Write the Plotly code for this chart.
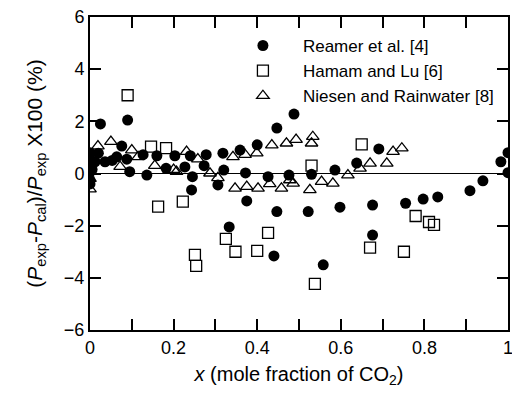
import plotly.graph_objects as go

# Reamer et al. [4]
reamer_x = [0.0, 0.0, 0.0, 0.0, 0.0, 0.0, 0.005, 0.012, 0.025, 0.02, 0.036, 0.053, 0.064, 0.076, 0.09,
            0.088, 0.095, 0.127, 0.136, 0.16, 0.182, 0.203, 0.227, 0.24, 0.245, 0.243, 0.278, 0.273,
            0.306, 0.318, 0.32, 0.359, 0.372, 0.375, 0.40, 0.426, 0.447, 0.447, 0.333, 0.44, 0.476,
            0.488, 0.522, 0.53, 0.558, 0.586, 0.598, 0.638, 0.676, 0.676, 0.691, 0.755, 0.797, 0.832,
            0.909, 0.94, 0.983, 1.0, 1.0]
reamer_y = [0.8, 0.55, 0.3, 0.05, -0.25, -0.4, 0.15, 0.45, 1.9, 0.78, 0.45, 0.5, 0.64, 1.05, 2.05,
            0.55, 0.07, 0.72, -0.06, 0.68, 0.2, 0.68, 0.25, 0.68, -0.12, -0.63, 0.72, 0.3,
            -0.44, 0.78, 0.13, 0.9, 0.02, -1.05, 1.1, -0.12, 1.74, -1.46, -2.05, -3.16, -0.06,
            2.28, -1.46, -0.03, -3.5, 0.13, -1.29, 0.4, -1.21, -2.36, 0.94, -1.14, -0.98, -0.9,
            -0.66, -0.28, 0.45, 0.8, 0.03]

# Hamam and Lu [6]
hamam_x = [0.09, 0.146, 0.182, 0.65, 0.53, 0.163, 0.222, 0.251, 0.254, 0.325, 0.348, 0.40,
           0.426, 0.538, 0.67, 0.751, 0.779, 0.811, 0.823]
hamam_y = [3.0, 1.03, 0.97, 1.12, 0.3, -1.27, -1.08, -3.12, -3.54, -2.51, -3.0, -2.97,
           -2.28, -4.23, -2.84, -3.0, -1.63, -1.86, -1.97]

# Niesen and Rainwater [8]
niesen_x = [0.0, 0.0, 0.019, 0.05, 0.072, 0.1, 0.115, 0.155, 0.2, 0.207, 0.231, 0.258, 0.287,
            0.306, 0.342, 0.347, 0.371, 0.375, 0.399, 0.402, 0.43, 0.435, 0.458, 0.47, 0.478,
            0.486, 0.493, 0.53, 0.533, 0.526, 0.554, 0.581, 0.617, 0.646, 0.67, 0.71, 0.725, 0.746]
niesen_y = [-0.6, -0.2, 1.05, 1.22, 0.26, 0.9, 0.64, 0.3, 0.15, 0.07, 0.84, 0.55, 0.01,
            -0.17, 0.64, -0.57, 0.72, -0.5, 0.78, -0.57, -0.4, 1.09, -0.57, 1.16, -0.25,
            -0.38, 1.3, 1.16, 1.41, -0.63, -0.31, -0.38, -0.06, 0.2, 0.39, 0.39, 0.84, 0.97]

x_ticks = [0, 0.1, 0.2, 0.3, 0.4, 0.5, 0.6, 0.7, 0.8, 0.9, 1.0]
x_labels = ["0", " ", "0.2", " ", "0.4", " ", "0.6", " ", "0.8", " ", "1"]
y_ticks = [-6, -4, -2, 0, 2, 4, 6]

FONT = "Liberation Sans, Arial, sans-serif"

fig = go.Figure()
fig.add_trace(go.Scatter(x=reamer_x, y=reamer_y, mode="markers", name="Reamer et al. [4]",
                         marker=dict(symbol="circle", size=11, color="black")))
fig.add_trace(go.Scatter(x=hamam_x, y=hamam_y, mode="markers", name="Hamam and Lu [6]",
                         marker=dict(symbol="square-open", size=11, color="black",
                                     line=dict(width=1.3, color="black"))))
fig.add_trace(go.Scatter(x=niesen_x, y=niesen_y, mode="markers", name="Niesen and Rainwater [8]",
                         marker=dict(symbol="triangle-up-open", size=11, color="black",
                                     line=dict(width=1.3, color="black"))))

# page body adds an 8px offset; margins place the plot area at 90..508 x 17..330 in the window
fig.update_layout(
    width=520, height=397,
    margin=dict(l=82, r=20, t=9, b=75),
    paper_bgcolor="white", plot_bgcolor="white",
    font=dict(family=FONT, color="black", size=17),
    showlegend=True,
    legend=dict(x=0.318, y=0.965, xanchor="left", yanchor="top",
                bgcolor="rgba(0,0,0,0)", font=dict(size=17, family=FONT),
                itemwidth=70, tracegroupgap=0),
    xaxis=dict(range=[0, 1], tickvals=x_ticks, ticktext=x_labels, ticks="inside",
               ticklen=11, tickwidth=1.5, tickcolor="black", showline=True, linewidth=2,
               linecolor="black", mirror="ticks", showgrid=False, zeroline=False,
               tickfont=dict(size=18, family=FONT), automargin=False, ticklabeloverflow="allow",
               title=dict(text="<i>x</i> (mole fraction of CO<sub>2</sub>)",
                          font=dict(size=20, family=FONT), standoff=10)),
    yaxis=dict(range=[-6, 6], tickvals=y_ticks, ticks="inside", ticklen=11, tickwidth=1.5,
               tickcolor="black", showline=True, linewidth=2, linecolor="black", mirror="ticks",
               showgrid=False, zeroline=True, zerolinecolor="black", zerolinewidth=1,
               tickfont=dict(size=18, family=FONT), automargin=False, ticklabeloverflow="allow",
               title=dict(text="(<i>P</i><sub>exp</sub>-<i>P</i><sub>cal</sub>)/<i>P</i><sub>exp</sub> X100 (%)",
                          font=dict(size=21, family=FONT), standoff=16)),
)

fig.write_html("out.html")
